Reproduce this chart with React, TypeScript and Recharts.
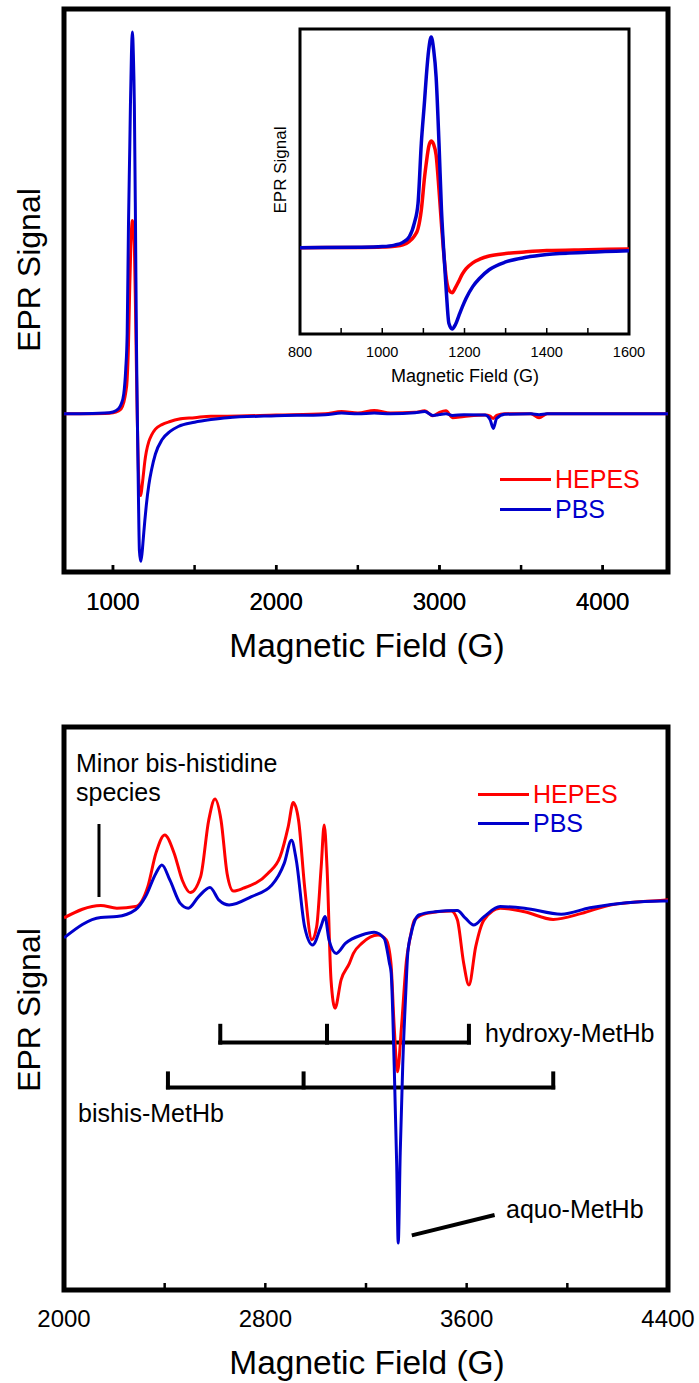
import { LineChart, Line, XAxis, YAxis, ReferenceArea, ReferenceLine, Legend } from "recharts";

const FONT = '"Liberation Sans", Arial, Helvetica, sans-serif';
const RED = "#ff0000";
const BLUE = "#0000cc";

// g~6 high-spin signal (full sweep + inset), arbitrary units, PBS peak = 100
const lowField = [700, 800, 950, 1000, 1030, 1050, 1066, 1078, 1087, 1095, 1103, 1107, 1113, 1119, 1125, 1131, 1138, 1144, 1149, 1156, 1162, 1170, 1178, 1186, 1195, 1204, 1220, 1237, 1260, 1300, 1350, 1400, 1500, 1600];
const lowPbs = [0, 0, 0.2, 0.5, 1.2, 2.5, 5.2, 11.6, 21, 49.5, 70, 81, 94, 100, 94, 81, 49.5, 17.9, 0, -21.6, -35.9, -38.6, -36.5, -32.5, -28, -24, -18.5, -14.5, -10.5, -6.8, -4.6, -3.3, -2.2, -1.5];
const lowHepes = [0, 0, 0.1, 0.3, 0.7, 1.3, 3, 5.5, 9, 17.9, 33.7, 40, 48, 50.6, 49, 44, 27.4, 11, -1.5, -15, -20, -21.4, -19, -16, -12.5, -10, -7.2, -5.5, -4, -2.8, -2, -1.4, -1, -0.6];

// rest of the full sweep (top panel)
const wideField = [1700, 2000, 2300, 2400, 2500, 2600, 2700, 2850, 2910, 2960, 3000, 3040, 3080, 3150, 3280, 3310, 3330, 3350, 3400, 3560, 3610, 3660, 3800, 4000, 4400];
const widePbs = [-1, -0.5, -0.2, 0.2, 0, 0.2, 0, 0.3, 0.6, -0.4, -0.2, 0, -0.4, -0.2, -0.3, -1.5, -3.8, -1.2, -0.1, 0, -0.2, 0, 0, 0, 0];
const wideHepes = [-0.6, -0.3, 0, 0.6, 0.2, 0.9, 0.2, 0.4, 0.8, -0.5, 0.4, 0.8, -1, -0.7, -0.3, -0.6, -1.2, -0.4, 0, 0, -1, 0, 0, 0, 0];

// expanded 2000-4400 G region (bottom panel)
const zoomHepesField = [2000, 2146, 2210, 2284, 2333, 2365, 2400, 2438, 2470, 2502, 2543, 2575, 2600, 2624, 2648, 2673, 2713, 2810, 2859, 2891, 2911, 2932, 2956, 2985, 3004, 3022, 3034, 3045, 3061, 3077, 3101, 3134, 3150, 3183, 3248, 3280, 3299, 3312, 3325, 3341, 3361, 3374, 3393, 3442, 3539, 3563, 3588, 3609, 3636, 3669, 3733, 3830, 3944, 4057, 4171, 4381, 4400];
const zoomHepes = [-3.2, -0.1, -0.8, -0.4, 4.6, 12.9, 17.5, 12.9, 6.2, 3.1, 7.1, 21.2, 26.5, 21.2, 7.9, 3.5, 4.2, 7.9, 12.1, 19.6, 25.6, 21.2, 4.6, -8.7, -5.4, 9.6, 20, 9.6, -18.7, -25.8, -18.7, -14.6, -12.1, -9.6, -7.5, -8.7, -14.5, -30.4, -41.7, -30.4, -13.7, -8.7, -3.7, -2.1, -1.5, -3.7, -14.5, -20, -10.4, -3.7, -0.8, -1.7, -3.6, -2.1, 0, 1.2, 1.3];
const zoomPbsField = [2000, 2146, 2210, 2284, 2324, 2365, 2389, 2421, 2462, 2494, 2535, 2580, 2616, 2656, 2745, 2826, 2875, 2904, 2923, 2956, 2988, 3021, 3037, 3053, 3082, 3118, 3183, 3232, 3272, 3293, 3300, 3312, 3322, 3328, 3336, 3346, 3358, 3366, 3380, 3410, 3474, 3563, 3595, 3628, 3669, 3733, 3830, 3976, 4090, 4381, 4400];
const zoomPbs = [-8.2, -3.1, -2.9, -1.2, 2.1, 7.9, 10, 6.2, 0.4, -0.8, 2.1, 4.4, 1.2, 0, 2.1, 5, 10.4, 16.2, 11.2, -5.4, -10, -5.4, -2.9, -8.7, -12.1, -9.6, -7.5, -6.8, -8.3, -14.5, -17, -40, -65, -84.5, -62, -40, -22, -12, -7, -2.5, -1.7, -1.4, -3.3, -5, -2.9, -0.4, -0.8, -2.3, -0.7, 1, 1];

// axis ticks
const topTicks = [1000, 1500, 2000, 2500, 3000, 3500, 4000];
const topLabels = [1000, 2000, 3000, 4000];
const insetTicks = [900, 1000, 1100, 1200, 1300, 1400, 1500];
const insetLabels = [800, 1000, 1200, 1400, 1600];
const zoomTicks = [2400, 2800, 3200, 3600, 4000];
const zoomLabels = [2000, 2800, 3600, 4400];

// assignment brackets (field positions of the g-components)
const hydroxyFields = [2621, 3045, 3609];
const bishisFields = [2413, 2952, 3944];
const minorBisHisField = 2139;
const aquoPointer = [
  { x: 3382, y: -82.6 },
  { x: 3711, y: -77.5 },
];

const fullRows = [
  ...lowField.map((f, i) => ({ f, hepes: lowHepes[i], pbs: lowPbs[i] })),
  ...wideField.map((f, i) => ({ f, hepes: wideHepes[i], pbs: widePbs[i] })),
];
const insetRows = fullRows.filter((r) => r.f >= 800 && r.f <= 1600);
const zoomHepesRows = zoomHepesField.map((f, i) => ({ f, v: zoomHepes[i] }));
const zoomPbsRows = zoomPbsField.map((f, i) => ({ f, v: zoomPbs[i] }));

function makeTick(marks: number[], labels: number[], dir: 1 | -1, len: number, width: number, fontSize: number, dy: number) {
  return (props: any) => {
    const { x, y, payload } = props;
    const v = payload.value;
    return (
      <g>
        {marks.includes(v) && <line x1={x} x2={x} y1={y} y2={y + dir * len} stroke="#000" strokeWidth={width} />}
        {labels.includes(v) && dy !== 0 && (
          <text x={x} y={y + dy} textAnchor="middle" fontSize={fontSize} fontFamily={FONT} fill="#000">
            {v}
          </text>
        )}
      </g>
    );
  };
}

function SeriesKey({ payload, rowHeight }: any) {
  return (
    <div style={{ fontFamily: FONT, fontSize: 25, lineHeight: `${rowHeight}px` }}>
      {(payload ?? []).map((p: any) => (
        <div key={p.value} style={{ display: "flex", alignItems: "center", color: p.color }}>
          <span style={{ display: "inline-block", width: 51, height: 3, background: p.color, marginRight: 4 }} />
          {p.value}
        </div>
      ))}
    </div>
  );
}

const txt = { fontFamily: FONT, fill: "#000" };

function FullSweep() {
  const yDom: [number, number] = [-41.4, 106];
  return (
    <LineChart width={699} height={700} data={fullRows} margin={{ top: 9, right: 31, bottom: 88, left: 64 }}>
      <XAxis dataKey="f" type="number" domain={[700, 4400]} allowDataOverflow ticks={[...topTicks, ...topLabels]} interval={0}
        axisLine={false} tickLine={false} tickSize={0} tickMargin={0} height={40}
        tick={makeTick(topTicks, topLabels, -1, 7, 2.5, 24, 38)} />
      <XAxis xAxisId="top" orientation="top" dataKey="f" type="number" domain={[700, 4400]} allowDataOverflow ticks={topTicks} interval={0}
        axisLine={false} tickLine={false} tickSize={0} tickMargin={0} height={0}
        tick={makeTick(topTicks, [], 1, 7, 2.5, 24, 0)} />
      <YAxis hide type="number" domain={yDom} allowDataOverflow />
      <ReferenceArea x1={700} x2={4400} y1={yDom[0]} y2={yDom[1]} fill="none" stroke="#000" strokeWidth={5} ifOverflow="visible" />
      <Line dataKey="hepes" name="HEPES" stroke={RED} strokeWidth={3} dot={false} type="monotone" isAnimationActive={false} />
      <Line dataKey="pbs" name="PBS" stroke={BLUE} strokeWidth={3} dot={false} type="monotone" isAnimationActive={false} />
      <Legend layout="horizontal" verticalAlign="middle" align="center"
        wrapperStyle={{ left: 500, top: 464, width: 170, bottom: "auto", height: "auto" }}
        content={(p: any) => <SeriesKey {...p} rowHeight={30} />} />
      <text {...txt} x={40} y={270} fontSize={32} textAnchor="middle" transform="rotate(-90 40 270)">EPR Signal</text>
      <text {...txt} x={367} y={657} fontSize={33.5} textAnchor="middle">Magnetic Field (G)</text>
    </LineChart>
  );
}

function Inset() {
  const yDom: [number, number] = [-41, 103.8];
  return (
    <LineChart width={699} height={420} data={insetRows} margin={{ top: 29, right: 70, bottom: 46, left: 300 }}>
      <XAxis dataKey="f" type="number" domain={[800, 1600]} allowDataOverflow ticks={[...insetTicks, 800, 1600]} interval={0}
        axisLine={false} tickLine={false} tickSize={0} tickMargin={0} height={40}
        tick={makeTick(insetTicks, insetLabels, -1, 6, 1.5, 14.5, 23)} />
      <XAxis xAxisId="top" orientation="top" dataKey="f" type="number" domain={[800, 1600]} allowDataOverflow ticks={insetTicks} interval={0}
        axisLine={false} tickLine={false} tickSize={0} tickMargin={0} height={0}
        tick={makeTick(insetTicks, [], 1, 6, 1.5, 14, 0)} />
      <YAxis hide type="number" domain={yDom} allowDataOverflow />
      <ReferenceArea x1={800} x2={1600} y1={yDom[0]} y2={yDom[1]} fill="none" stroke="#000" strokeWidth={3} ifOverflow="visible" />
      <Line dataKey="hepes" stroke={RED} strokeWidth={3.5} dot={false} type="monotone" isAnimationActive={false} />
      <Line dataKey="pbs" stroke={BLUE} strokeWidth={3.5} dot={false} type="monotone" isAnimationActive={false} />
      <text {...txt} x={286} y={170} fontSize={17} textAnchor="middle" transform="rotate(-90 286 170)">EPR Signal</text>
      <text {...txt} x={465} y={382} fontSize={18} textAnchor="middle">Magnetic Field (G)</text>
    </LineChart>
  );
}

function Expanded() {
  const yDom: [number, number] = [-96.25, 44.5];
  const hyBar = -34.4;
  const hyTop = -30.2;
  const bhBar = -45.6;
  const bhTop = -42.1;
  const seg = { stroke: "#000", strokeWidth: 4, strokeLinecap: "square" as const, ifOverflow: "visible" as const };
  return (
    <LineChart width={699} height={683} margin={{ top: 27, right: 31, bottom: 53, left: 64 }}>
      <XAxis dataKey="f" type="number" domain={[2000, 4400]} allowDataOverflow ticks={[...zoomTicks, 2000, 4400]} interval={0}
        axisLine={false} tickLine={false} tickSize={0} tickMargin={0} height={40}
        tick={makeTick(zoomTicks, zoomLabels, -1, 7, 2.5, 24, 37)} />
      <XAxis xAxisId="top" orientation="top" dataKey="f" type="number" domain={[2000, 4400]} allowDataOverflow ticks={zoomTicks} interval={0}
        axisLine={false} tickLine={false} tickSize={0} tickMargin={0} height={0}
        tick={makeTick(zoomTicks, [], 1, 7, 2.5, 24, 0)} />
      <YAxis hide type="number" domain={yDom} allowDataOverflow />
      <ReferenceArea x1={2000} x2={4400} y1={yDom[0]} y2={yDom[1]} fill="none" stroke="#000" strokeWidth={5} ifOverflow="visible" />
      <ReferenceLine segment={[{ x: hydroxyFields[0], y: hyBar }, { x: hydroxyFields[2], y: hyBar }]} {...seg} />
      {hydroxyFields.map((f) => (
        <ReferenceLine key={"h" + f} segment={[{ x: f, y: hyTop }, { x: f, y: hyBar }]} {...seg} />
      ))}
      <ReferenceLine segment={[{ x: bishisFields[0], y: bhBar }, { x: bishisFields[2], y: bhBar }]} {...seg} />
      {bishisFields.map((f) => (
        <ReferenceLine key={"b" + f} segment={[{ x: f, y: bhTop }, { x: f, y: bhBar }]} {...seg} />
      ))}
      <ReferenceLine segment={[{ x: minorBisHisField, y: 20.25 }, { x: minorBisHisField, y: 2 }]} stroke="#000" strokeWidth={3} ifOverflow="visible" />
      <ReferenceLine segment={aquoPointer} stroke="#000" strokeWidth={4} ifOverflow="visible" />
      <Line data={zoomHepesRows} dataKey="v" name="HEPES" stroke={RED} strokeWidth={3} dot={false} type="monotone" isAnimationActive={false} />
      <Line data={zoomPbsRows} dataKey="v" name="PBS" stroke={BLUE} strokeWidth={3} dot={false} type="monotone" isAnimationActive={false} />
      <Legend layout="horizontal" verticalAlign="middle" align="center"
        wrapperStyle={{ left: 478, top: 80, width: 170, bottom: "auto", height: "auto" }}
        content={(p: any) => <SeriesKey {...p} rowHeight={29} />} />
      <text {...txt} x={76} y={72} fontSize={25}>Minor bis-histidine</text>
      <text {...txt} x={76} y={101} fontSize={25}>species</text>
      <text {...txt} x={485} y={342} fontSize={25}>hydroxy-MetHb</text>
      <text {...txt} x={78} y={422} fontSize={25}>bishis-MetHb</text>
      <text {...txt} x={506} y={518} fontSize={25}>aquo-MetHb</text>
      <text {...txt} x={40} y={310} fontSize={32} textAnchor="middle" transform="rotate(-90 40 310)">EPR Signal</text>
      <text {...txt} x={367} y={674} fontSize={33.5} textAnchor="middle">Magnetic Field (G)</text>
    </LineChart>
  );
}

export default function App() {
  return (
    <div style={{ position: "absolute", left: 0, top: 0, width: 699, height: 1383, background: "#fff" }}>
      <div style={{ position: "absolute", left: 0, top: 0 }}>
        <FullSweep />
      </div>
      <div style={{ position: "absolute", left: 0, top: 0 }}>
        <Inset />
      </div>
      <div style={{ position: "absolute", left: 0, top: 700 }}>
        <Expanded />
      </div>
    </div>
  );
}
